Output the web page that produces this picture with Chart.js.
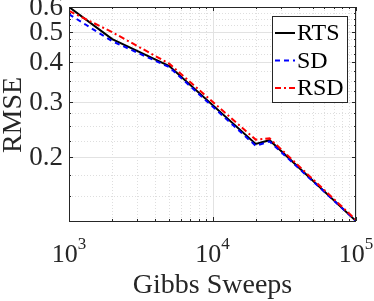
<!DOCTYPE html>
<html>
<head>
<meta charset="utf-8">
<script src="https://cdn.jsdelivr.net/npm/chart.js@4.4.0/dist/chart.umd.min.js"></script>
<style>
  html, body { margin: 0; padding: 0; background: #fff; }
  #wrap { width: 374px; height: 301px; }
</style>
</head>
<body>
<div id="wrap"><canvas id="rmseChart"></canvas></div>
<script>
// Gibbs sweeps vs RMSE
const sweeps = [1000, 2000, 5000, 20000, 25000, 100000];
const rtsRmse = [0.600, 0.474, 0.389, 0.220, 0.226, 0.125];
const sdRmse  = [0.569, 0.467, 0.386, 0.217, 0.224, 0.125];
const rsdRmse = [0.583, 0.499, 0.396, 0.227, 0.229, 0.126];

const xMajorTicks = [1000, 10000, 100000];
const xMinorTicks = [2000, 3000, 4000, 5000, 6000, 7000, 8000, 9000,
                     20000, 30000, 40000, 50000, 60000, 70000, 80000, 90000];
const xTickLabels = [['10', '3'], ['10', '4'], ['10', '5']];
const yMajorTicks = [0.2, 0.3, 0.4, 0.5, 0.6];
const yMinorTicks = [0.125, 0.15, 0.175, 0.225, 0.25, 0.275, 0.325, 0.35, 0.375,
                     0.425, 0.45, 0.475, 0.525, 0.55, 0.575];
const yTickLabels = ['0.2', '0.3', '0.4', '0.5', '0.6'];

const axisColor = '#262626';
const serif = '"Liberation Serif", "Times New Roman", serif';

const toPoints = ys => sweeps.map((x, i) => ({ x: x, y: ys[i] }));

// grid lines under the data
const gridPlugin = {
    id: 'matlabGrid',
    beforeDatasetsDraw(chart) {
        const { ctx, chartArea: a, scales: { x, y } } = chart;
        ctx.save();
        ctx.lineWidth = 1;
        const vline = (v) => { const px = Math.round(x.getPixelForValue(v)) + 0.5; ctx.beginPath(); ctx.moveTo(px, a.top); ctx.lineTo(px, a.bottom); ctx.stroke(); };
        const hline = (v) => { const py = Math.round(y.getPixelForValue(v)) + 0.5; ctx.beginPath(); ctx.moveTo(a.left, py); ctx.lineTo(a.right, py); ctx.stroke(); };
        ctx.strokeStyle = '#dedede';
        ctx.setLineDash([1, 2]);
        xMinorTicks.forEach(vline);
        yMinorTicks.forEach(hline);
        ctx.strokeStyle = '#e2e2e2';
        ctx.setLineDash([]);
        xMajorTicks.forEach(vline);
        yMajorTicks.forEach(hline);
        ctx.restore();
    }
};

// box, inward ticks, labels, legend
const framePlugin = {
    id: 'matlabFrame',
    afterDraw(chart) {
        const { ctx, chartArea: a, scales: { x, y } } = chart;
        ctx.save();
        ctx.strokeStyle = axisColor;
        ctx.lineWidth = 1;
        ctx.strokeRect(a.left + 0.5, a.top + 0.5, a.right - a.left - 1, a.bottom - a.top);

        const xt = (v, len) => {
            const px = Math.round(x.getPixelForValue(v)) + 0.5;
            ctx.beginPath();
            ctx.moveTo(px, a.bottom); ctx.lineTo(px, a.bottom - len);
            ctx.moveTo(px, a.top); ctx.lineTo(px, a.top + len);
            ctx.stroke();
        };
        const yt = (v, len) => {
            const py = Math.round(y.getPixelForValue(v)) + 0.5;
            ctx.beginPath();
            ctx.moveTo(a.left, py); ctx.lineTo(a.left + len, py);
            ctx.moveTo(a.right, py); ctx.lineTo(a.right - len, py);
            ctx.stroke();
        };
        xMajorTicks.forEach(v => xt(v, 4));
        xMinorTicks.forEach(v => xt(v, 2));
        yMajorTicks.forEach(v => yt(v, 4));
        yMinorTicks.forEach(v => yt(v, 2));

        ctx.fillStyle = axisColor;
        // y tick labels
        ctx.font = '27px ' + serif;
        ctx.textAlign = 'right';
        ctx.textBaseline = 'middle';
        yMajorTicks.forEach((v, i) => ctx.fillText(yTickLabels[i], a.left - 6, y.getPixelForValue(v) + 1));

        // x tick labels with exponent
        ctx.textBaseline = 'alphabetic';
        xMajorTicks.forEach((v, i) => {
            const [base, exp] = xTickLabels[i];
            ctx.font = '26px ' + serif;
            const bw = ctx.measureText(base).width;
            ctx.font = '17px ' + serif;
            const ew = ctx.measureText(exp).width;
            const left = x.getPixelForValue(v) - (bw + ew) / 2;
            ctx.textAlign = 'left';
            ctx.font = '26px ' + serif;
            ctx.fillText(base, left, 262);
            ctx.font = '17px ' + serif;
            ctx.fillText(exp, left + bw, 249);
        });

        // axis titles
        ctx.font = '28px ' + serif;
        ctx.textAlign = 'center';
        ctx.fillText('Gibbs Sweeps', (a.left + a.right) / 2, 293);
        ctx.save();
        ctx.translate(21, 115);
        ctx.rotate(-Math.PI / 2);
        ctx.fillText('RMSE', 0, 0);
        ctx.restore();

        // legend
        const lx = 272, ly = 16, lw = 75, lh = 86;
        ctx.fillStyle = '#fff';
        ctx.fillRect(lx, ly, lw, lh);
        ctx.strokeStyle = axisColor;
        ctx.strokeRect(lx + 0.5, ly + 0.5, lw, lh);
        chart.data.datasets.forEach((ds, i) => {
            const cy = 33 + i * 27.5;
            ctx.strokeStyle = ds.borderColor;
            ctx.lineWidth = 2;
            ctx.setLineDash(ds.borderDash || []);
            ctx.beginPath();
            ctx.moveTo(275, cy); ctx.lineTo(295, cy);
            ctx.stroke();
            ctx.setLineDash([]);
            ctx.fillStyle = '#000';
            ctx.font = '24px ' + serif;
            ctx.textAlign = 'left';
            ctx.textBaseline = 'middle';
            ctx.fillText(ds.label, 297, cy + 1);
        });
        ctx.restore();
    }
};

new Chart(document.getElementById('rmseChart'), {
    type: 'line',
    data: {
        datasets: [
            { label: 'RTS', data: toPoints(rtsRmse), borderColor: '#000000', borderWidth: 2, order: 2 },
            { label: 'SD', data: toPoints(sdRmse), borderColor: '#0000ff', borderWidth: 2, borderDash: [5, 4], order: 1 },
            { label: 'RSD', data: toPoints(rsdRmse), borderColor: '#ff0000', borderWidth: 2, borderDash: [6, 3, 2, 3], order: 0 }
        ]
    },
    options: {
        responsive: true,
        maintainAspectRatio: false,
        animation: false,
        layout: { padding: { left: 69, top: 7, right: 18, bottom: 80 } },
        elements: { point: { radius: 0 }, line: { tension: 0, fill: false } },
        plugins: { legend: { display: false }, tooltip: { enabled: false } },
        scales: {
            x: { type: 'logarithmic', min: 1000, max: 100000, display: false },
            y: { type: 'logarithmic', min: 0.125, max: 0.6, display: false }
        }
    },
    plugins: [gridPlugin, framePlugin]
});
</script>
</body>
</html>
